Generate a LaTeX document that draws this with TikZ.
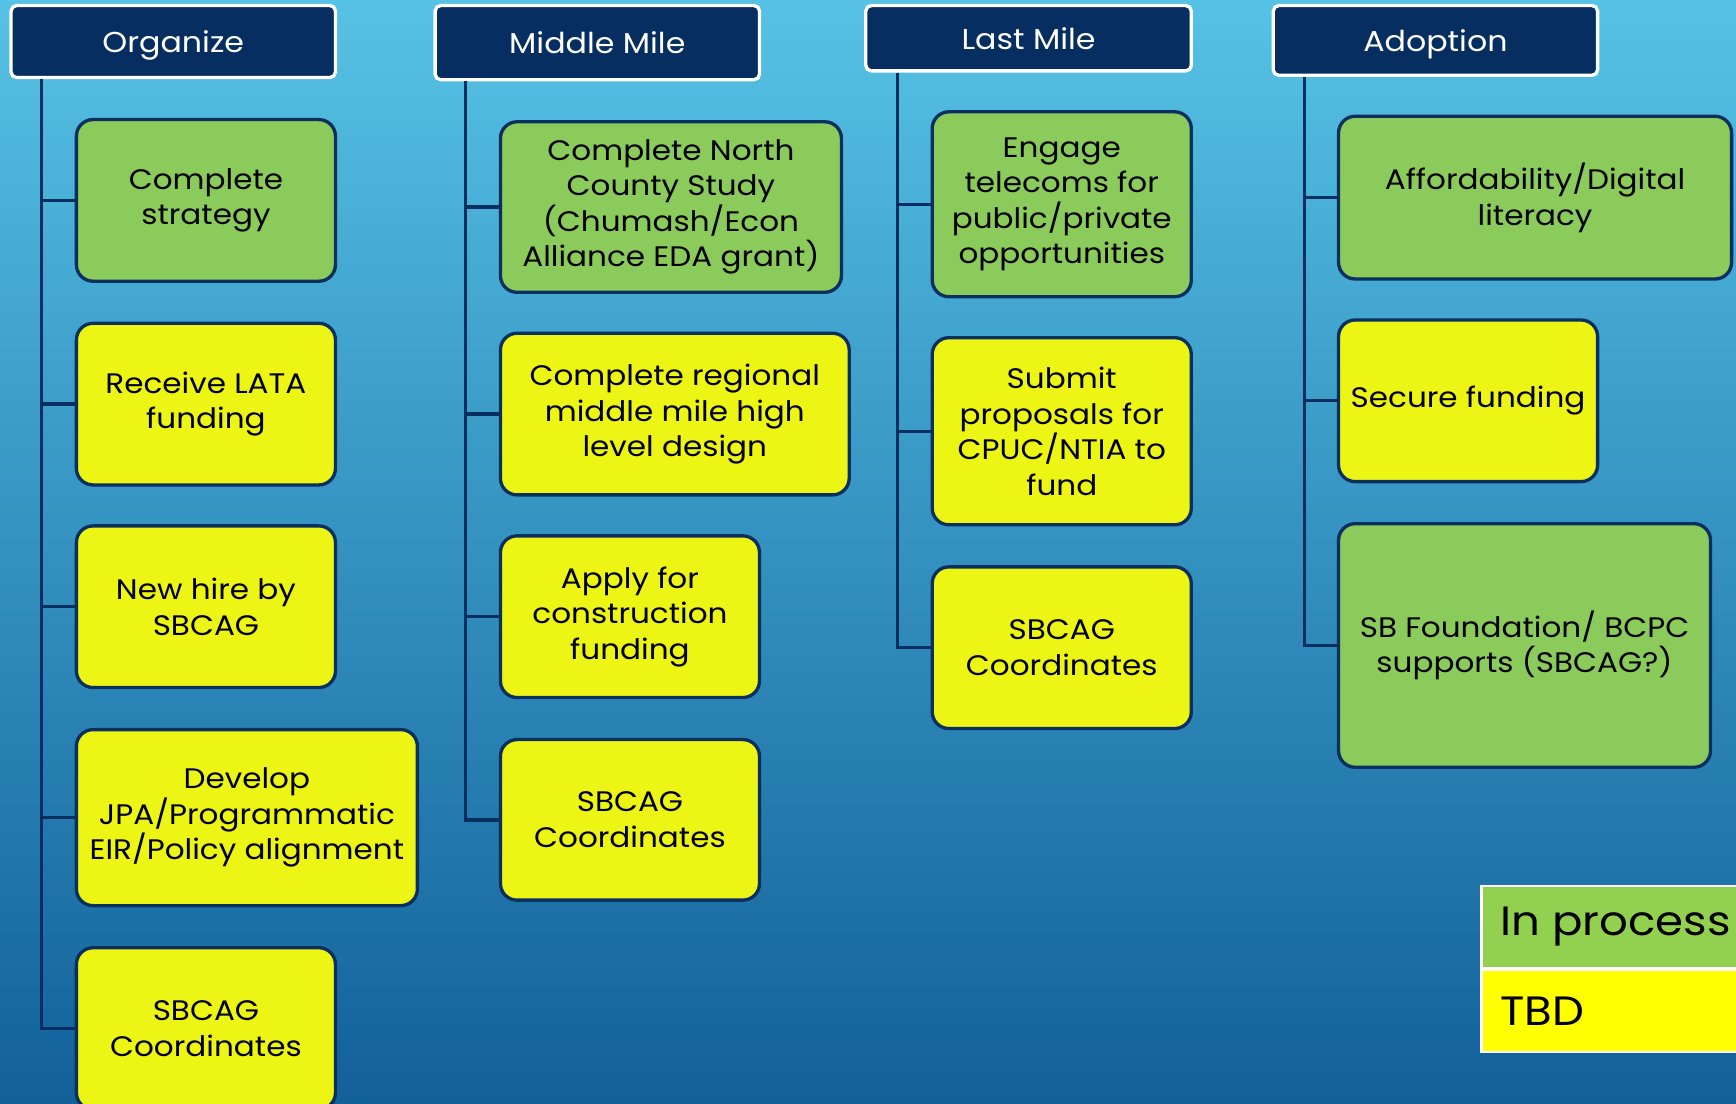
\documentclass[tikz,border=0pt]{standalone}
\usepackage{fontspec}
\setmainfont{Poppins}[FakeStretch=1.1]
\usetikzlibrary{calc}
\definecolor{navy}{HTML}{062E60}
\definecolor{boxline}{HTML}{0B2F5E}
\definecolor{gbox}{HTML}{8BCB5B}
\definecolor{ybox}{HTML}{EDF515}
\definecolor{lgreen}{HTML}{92D050}
\definecolor{lyellow}{HTML}{FFFF00}
\definecolor{bgtop}{HTML}{56C2E5}
\definecolor{bgbot}{HTML}{12609A}
\tikzset{
  hdr/.style={draw=white, line width=3pt, fill=navy, rounded corners=5pt, text=white,
    font=\fontsize{26}{32}\selectfont, inner sep=0pt, text depth=0pt, text height=20pt},
  item/.style={draw=boxline, line width=3pt, rounded corners=15pt, align=center,
    font=\fontsize{25.5}{32}\selectfont, inner sep=0pt, text=black},
  gitem/.style={item, fill=gbox},
  yitem/.style={item, fill=ybox},
  conn/.style={draw=navy, line width=3pt},
  lgbox/.style={anchor=north west, inner sep=0pt, minimum width=229pt, minimum height=72pt},
  lgtext/.style={anchor=west, inner sep=0pt, font=\fontsize{37}{44}\selectfont, text=black}
}
\begin{document}
\begin{tikzpicture}[x=1pt,y=-1pt]
\useasboundingbox (0,0) rectangle (1568,997);
\shade[top color=bgtop, bottom color=bgbot] (0,0) rectangle (1568,997);
% headers
\node[hdr, minimum width=293pt, minimum height=65pt] (h1) at (156.5,37.5) {Organize};
\node[hdr, minimum width=293pt, minimum height=67pt] (h2) at (539.5,38.5) {Middle Mile};
\node[hdr, minimum width=294pt, minimum height=59pt] (h3) at (929,34.5) {Last Mile};
\node[hdr, minimum width=293pt, minimum height=63pt] (h4) at (1296.5,36.5) {Adoption};
% Organize
\node[gitem, minimum width=234pt, minimum height=146pt] (o1) at (186,181) {Complete\\strategy};
\node[yitem, minimum width=234pt, minimum height=146pt] (o2) at (186,365) {Receive LATA\\funding};
\node[yitem, minimum width=234pt, minimum height=146pt] (o3) at (186,548) {New hire by\\SBCAG};
\node[yitem, minimum width=308pt, minimum height=159pt] (o4) at (223,738.5) {Develop\\JPA/Programmatic\\EIR/Policy alignment};
\node[yitem, minimum width=234pt, minimum height=146pt] (o5) at (186,929) {SBCAG\\Coordinates};
% Middle Mile
\node[gitem, minimum width=308pt, minimum height=154pt] (m1) at (606,187) {Complete North\\County Study\\(Chumash/Econ\\Alliance EDA grant)};
\node[yitem, minimum width=315pt, minimum height=146pt] (m2) at (609.5,374) {Complete regional\\middle mile high\\level design};
\node[yitem, minimum width=234pt, minimum height=146pt] (m3) at (569,557) {Apply for\\construction\\funding};
\node[yitem, minimum width=234pt, minimum height=145pt] (m4) at (569,740.5) {SBCAG\\Coordinates};
% Last Mile
\node[gitem, minimum width=234pt, minimum height=167pt] (l1) at (959,184.5) {Engage\\telecoms for\\public/private\\opportunities};
\node[yitem, minimum width=234pt, minimum height=169pt] (l2) at (959,389.5) {Submit\\proposals for\\CPUC/NTIA to\\fund};
\node[yitem, minimum width=234pt, minimum height=146pt] (l3) at (959,585) {SBCAG\\Coordinates};
% Adoption
\node[gitem, minimum width=355pt, minimum height=147pt] (a1) at (1386.5,178.5) {Affordability/Digital\\literacy};
\node[yitem, minimum width=234pt, minimum height=146pt] (a2) at (1326,362) {Secure funding};
\node[gitem, minimum width=336pt, minimum height=220pt] (a3) at (1377,583) {SB Foundation/ BCPC\\supports (SBCAG?)};
% connectors
\foreach \b in {o1,o2,o3,o4,o5} \draw[conn] ($(h1.south west)+(29,0)$) |- (\b.west);
\foreach \b in {m1,m2,m3,m4} \draw[conn] ($(h2.south west)+(29,0)$) |- (\b.west);
\foreach \b in {l1,l2,l3} \draw[conn] ($(h3.south west)+(30,0)$) |- (\b.west);
\foreach \b in {a1,a2,a3} \draw[conn] ($(h4.south west)+(30,0)$) |- (\b.west);
% legend
\fill[white] (1337,799) rectangle (1570,951);
\node[lgbox, fill=lgreen] (lg1) at (1339,801) {};
\node[lgbox, fill=lyellow] (lg2) at (1339,877) {};
\node[lgtext] (lt1) at ($(lg1.west)+(16,0)$) {In process};
\node[lgtext] (lt2) at ($(lg2.west)+(16,0)$) {TBD};
\end{tikzpicture}
\end{document}
